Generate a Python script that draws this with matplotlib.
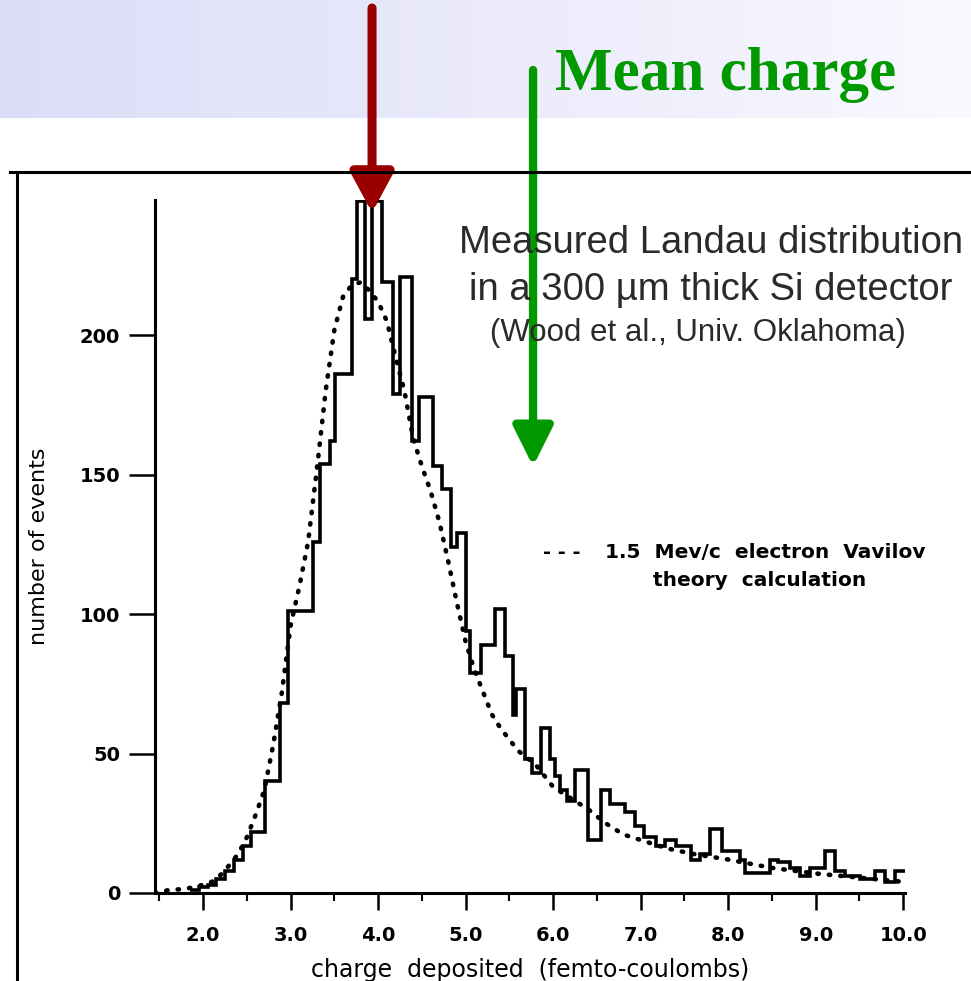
import numpy as np
import matplotlib.pyplot as plt
from matplotlib.lines import Line2D
from matplotlib.colors import LinearSegmentedColormap
from matplotlib.ticker import MultipleLocator

# measured histogram (charge in fC, number of events per bin)
bin_edges = [1.85, 1.95, 2.05, 2.15, 2.25, 2.35, 2.45, 2.545, 2.71, 2.88,
             2.97, 3.25, 3.33, 3.45, 3.51, 3.70, 3.76, 3.85, 3.93, 4.04,
             4.17, 4.25, 4.39, 4.47, 4.63, 4.73, 4.83, 4.90, 5.00, 5.05,
             5.18, 5.34, 5.45, 5.54, 5.58, 5.68, 5.76, 5.86, 5.96, 6.02,
             6.08, 6.16, 6.25, 6.40, 6.55, 6.65, 6.82, 6.94, 7.04, 7.17,
             7.28, 7.40, 7.57, 7.68, 7.79, 7.93, 8.02, 8.14, 8.19, 8.48,
             8.57, 8.71, 8.82, 8.94, 9.11, 9.22, 9.34, 9.51, 9.68, 9.79,
             9.91, 10.02]
counts = [1, 2, 3, 5, 8, 12, 17, 22, 40, 68,
          101, 126, 154, 162, 186, 220, 248, 206, 248, 219,
          179, 221, 162, 178, 153, 145, 124, 129, 94, 79,
          89, 102, 85, 64, 73, 48, 43, 59, 48, 42,
          37, 33, 44, 19, 37, 32, 29, 24, 20, 17,
          19, 17, 12, 14, 23, 15, 15, 12, 7, 12,
          11, 9, 6, 9, 15, 8, 6, 5, 8, 4,
          8]

# Vavilov theory curve
theory_x = [1.45, 1.6, 1.8, 1.95, 2.1, 2.2, 2.3, 2.4, 2.5, 2.6, 2.7, 2.8, 2.9,
            3.0, 3.1, 3.2, 3.3, 3.4, 3.5, 3.6, 3.7, 3.8, 3.9, 4.0, 4.1, 4.2,
            4.3, 4.4, 4.5, 4.6, 4.7, 4.8, 4.9, 5.0, 5.1, 5.2, 5.3, 5.4, 5.5,
            5.6, 5.8, 6.0, 6.2, 6.4, 6.6, 6.8, 7.0, 7.3, 7.6, 8.0, 8.5, 9.0,
            9.5, 10.0]
theory_y = [0, 1, 1.5, 2.5, 4, 6.5, 10, 14, 20, 28, 37, 53, 72,
            96, 110, 126, 152, 180, 202, 214, 218, 219, 216, 212, 205, 192,
            180, 163, 153, 144, 133, 119, 104, 90, 80, 72, 64, 59, 55,
            51, 46, 38, 34, 30, 25, 21, 19, 16, 14, 12, 9, 7,
            5.5, 4]

most_probable = 3.93   # red arrow
mean_charge = 5.77     # green arrow

x_ticks = [2, 3, 4, 5, 6, 7, 8, 9, 10]
y_ticks = [0, 50, 100, 150, 200]

W, H = 971, 981
fig = plt.figure(figsize=(W / 100, H / 100), dpi=100)

# light lavender band at top of the slide
band = fig.add_axes([0, 1 - 118 / H, 1, 118 / H], zorder=-1)
grad = np.linspace(0, 1, 256).reshape(1, -1)
band.imshow(grad, aspect="auto", extent=[0, 1, 0, 1],
            cmap=LinearSegmentedColormap.from_list("band", ["#dcdcf8", "#f9f9ff"]))
band.axis("off")

# frame of the scanned figure
fig.add_artist(Line2D([10 / W, 1], [1 - 172 / H] * 2, transform=fig.transFigure, color="k", lw=2.2))
fig.add_artist(Line2D([17 / W] * 2, [1 - 172 / H, 0], transform=fig.transFigure, color="k", lw=2.2))

ax = fig.add_axes([155 / W, 1 - 893 / H, 750 / W, 693 / H])
ax.patch.set_alpha(0)

ax.stairs(counts, bin_edges, baseline=None, color="black", lw=2.6)
ax.plot(theory_x, theory_y, color="black", lw=3.3, linestyle=(0, (0.3, 2.2)),
        dash_capstyle="round")

ax.set_xlim(1.45, 10.02)
ax.set_ylim(0, 248.5)
ax.spines["top"].set_visible(False)
ax.spines["right"].set_visible(False)
ax.spines["left"].set_linewidth(2.2)
ax.spines["bottom"].set_linewidth(2.2)

ax.set_xticks(x_ticks)
ax.set_xticklabels([f"{v:.1f}" for v in x_ticks])
ax.xaxis.set_minor_locator(MultipleLocator(0.5))
ax.set_yticks(y_ticks)
ax.tick_params(axis="x", which="major", direction="out", length=12, width=1.8, pad=12)
ax.tick_params(axis="x", which="minor", direction="out", length=6, width=1.5)
ax.tick_params(axis="y", which="major", direction="out", length=19, width=1.8, pad=6)
for lab in ax.get_xticklabels() + ax.get_yticklabels():
    lab.set_fontweight("bold")
    lab.set_fontsize(14)

ax.set_xlabel("charge  deposited  (femto-coulombs)", fontsize=17, labelpad=9)
ax.set_ylabel("number of events", fontsize=16, labelpad=22)

# caption
txt_kw = dict(ha="center", va="center", color="#2a2a2a", family="Liberation Sans")
fig.text(711 / W, 1 - 243 / H, "Measured Landau distribution", fontsize=27.5, **txt_kw)
fig.text(711 / W, 1 - 290 / H, "in a 300 \u00b5m thick Si detector", fontsize=27.5, **txt_kw)
fig.text(698 / W, 1 - 333 / H, "(Wood et al., Univ. Oklahoma)", fontsize=22.5, **txt_kw)

# legend for theory curve
fig.text(562 / W, 1 - 553 / H, "- - -", fontsize=14, fontweight="bold", ha="center", va="center")
fig.text(605 / W, 1 - 553 / H, "1.5  Mev/c  electron  Vavilov", fontsize=14.5,
         fontweight="bold", ha="left", va="center")
fig.text(760 / W, 1 - 580 / H, "theory  calculation", fontsize=14.5,
         fontweight="bold", ha="center", va="center")

# arrows
ax.annotate("", xy=(most_probable, 244), xycoords="data",
            xytext=(most_probable, 1 - 8 / H), textcoords=("data", "figure fraction"),
            arrowprops=dict(arrowstyle="-|>,head_length=1.2,head_width=0.65",
                            color="#990000", lw=6.5, shrinkA=0, shrinkB=0,
                            mutation_scale=20),
            annotation_clip=False, zorder=10)
ax.annotate("", xy=(mean_charge, 153), xycoords="data",
            xytext=(mean_charge, 1 - 70 / H), textcoords=("data", "figure fraction"),
            arrowprops=dict(arrowstyle="-|>,head_length=1.2,head_width=0.6",
                            color="#009900", lw=6, shrinkA=0, shrinkB=0,
                            mutation_scale=20),
            annotation_clip=False, zorder=10)

fig.text(555 / W, 1 - 90 / H, "Mean charge", fontsize=44, fontweight="bold",
         family="Liberation Serif", color="#009900", ha="left", va="baseline")

fig.savefig("out.png", dpi=100)
